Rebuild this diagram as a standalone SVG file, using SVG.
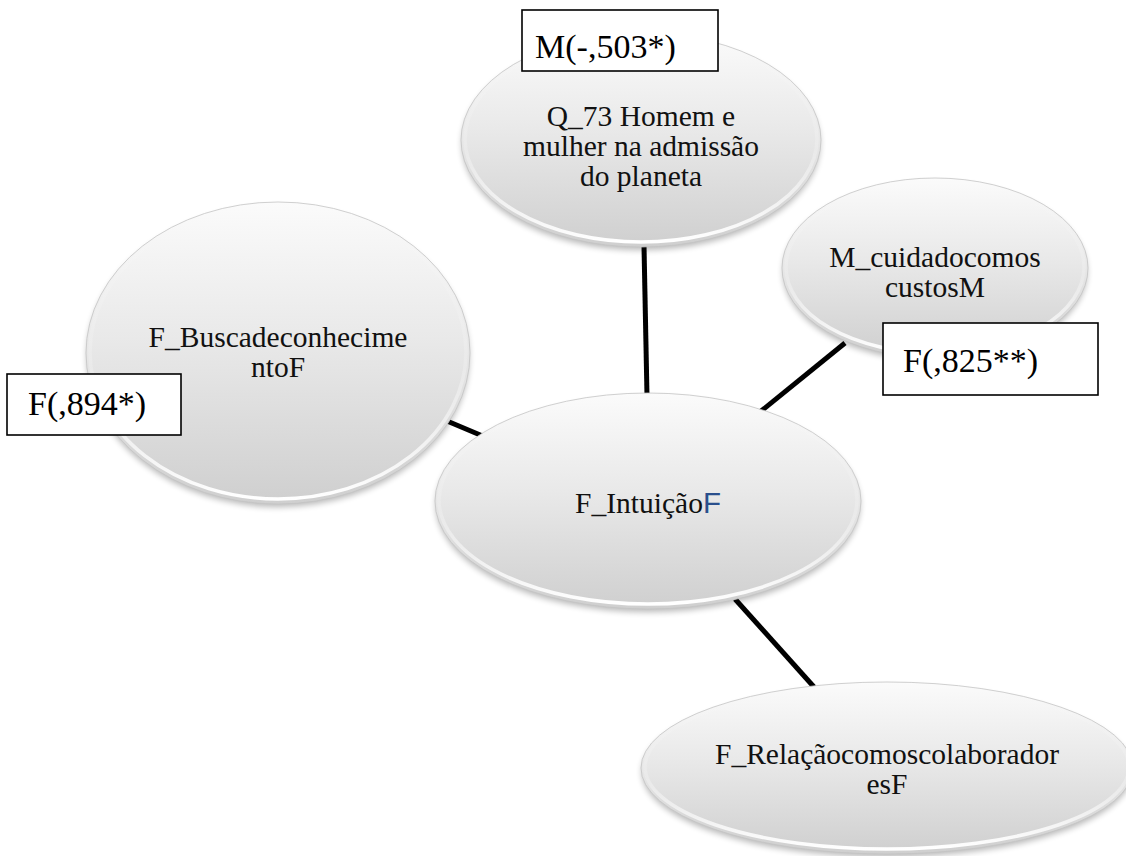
<svg xmlns="http://www.w3.org/2000/svg" width="1126" height="856" viewBox="0 0 1126 856">
  <defs>
    <linearGradient id="bodyFill" x1="0" y1="0" x2="0" y2="1">
      <stop offset="0" stop-color="#fbfbfb"/>
      <stop offset="0.45" stop-color="#e9e9e9"/>
      <stop offset="1" stop-color="#cfcfcf"/>
    </linearGradient>
    <linearGradient id="rimStroke" x1="0" y1="0" x2="0" y2="1">
      <stop offset="0" stop-color="#ffffff" stop-opacity="0"/>
      <stop offset="0.55" stop-color="#ffffff" stop-opacity="0.2"/>
      <stop offset="1" stop-color="#ffffff" stop-opacity="1"/>
    </linearGradient>
    <filter id="softShadow" x="-10%" y="-10%" width="120%" height="130%">
      <feGaussianBlur stdDeviation="3"/>
    </filter>
    <style>
      .shadow { fill: #000; opacity: 0.28; filter: url(#softShadow); }
      .body { fill: url(#bodyFill); stroke: #c4c4c4; stroke-width: 0.8; }
      .rim { fill: none; stroke: url(#rimStroke); stroke-width: 3.5; }
      .label { font-family: "Liberation Serif", "Times New Roman", serif; font-size: 29.5px; fill: #111; text-anchor: middle; }
      .accent { font-family: "Liberation Sans", Arial, sans-serif; fill: #2a4f8c; }
      .box rect { fill: #fff; stroke: #000; stroke-width: 1.6; }
      .box text { font-family: "Liberation Serif", "Times New Roman", serif; font-size: 34px; fill: #000; }
      .links line { stroke: #000; stroke-width: 5; }
    </style>
  </defs>

  <rect width="1126" height="856" fill="#fff"/>

  <!-- connectors between the central node and its neighbours -->
  <g id="connectors" class="links">
    <line x1="644" y1="246" x2="647" y2="396"/>
    <line x1="845" y1="343" x2="760" y2="412"/>
    <line x1="447" y1="421" x2="485" y2="437"/>
    <line x1="735" y1="599" x2="814" y2="687"/>
  </g>

  <!-- Q_73 -->
  <g id="node-q73">
    <ellipse class="shadow" cx="641" cy="144" rx="179" ry="106"/>
    <ellipse class="body" cx="641" cy="140" rx="180" ry="107"/>
    <ellipse class="rim" cx="641" cy="139" rx="176" ry="103"/>
    <text class="label" x="641" y="126">Q_73 Homem e</text>
    <text class="label" x="641" y="156">mulher na admissão</text>
    <text class="label" x="641" y="186">do planeta</text>
  </g>

  <!-- M_cuidadocomoscustosM -->
  <g id="node-cuidado">
    <ellipse class="shadow" cx="935" cy="272" rx="152" ry="89"/>
    <ellipse class="body" cx="935" cy="268" rx="153" ry="90"/>
    <ellipse class="rim" cx="935" cy="267" rx="149" ry="86"/>
    <text class="label" x="935" y="267">M_cuidadocomos</text>
    <text class="label" x="935" y="297">custosM</text>
  </g>

  <!-- F_BuscadeconhecimentoF -->
  <g id="node-busca">
    <ellipse class="shadow" cx="278" cy="357" rx="191" ry="150"/>
    <ellipse class="body" cx="278" cy="353" rx="192" ry="151"/>
    <ellipse class="rim" cx="278" cy="352" rx="188" ry="147"/>
    <text class="label" x="278" y="347">F_Buscadeconhecime</text>
    <text class="label" x="278" y="377">ntoF</text>
  </g>

  <!-- F_IntuiçãoF (central node) -->
  <g id="node-intuicao">
    <ellipse class="shadow" cx="648" cy="505" rx="212" ry="107"/>
    <ellipse class="body" cx="648" cy="501" rx="213" ry="108"/>
    <ellipse class="rim" cx="648" cy="500" rx="209" ry="104"/>
    <text class="label" x="648" y="513">F_Intuição<tspan class="accent">F</tspan></text>
  </g>

  <!-- F_RelaçãocomoscolaboradoresF -->
  <g id="node-relacao">
    <ellipse class="shadow" cx="887" cy="772" rx="245" ry="85"/>
    <ellipse class="body" cx="887" cy="768" rx="246" ry="86"/>
    <ellipse class="rim" cx="887" cy="767" rx="242" ry="82"/>
    <text class="label" x="887" y="764">F_Relaçãocomoscolaborador</text>
    <text class="label" x="887" y="794">esF</text>
  </g>

  <!-- coefficient labels -->
  <g id="label-q73" class="box">
    <rect x="522" y="10" width="196" height="61"/>
    <text x="535" y="58">M(-,503*)</text>
  </g>
  <g id="label-cuidado" class="box">
    <rect x="883" y="323" width="215" height="72"/>
    <text x="903" y="372">F(,825**)</text>
  </g>
  <g id="label-busca" class="box">
    <rect x="7" y="374" width="174" height="61"/>
    <text x="28" y="415">F(,894*)</text>
  </g>
</svg>
